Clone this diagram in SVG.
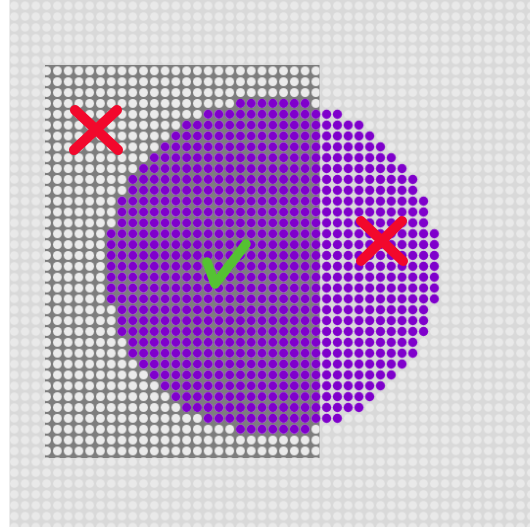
<svg xmlns="http://www.w3.org/2000/svg" width="530" height="527" viewBox="0 0 530 527">
  <style>
    .xmark { fill: none; stroke: #f2082c; stroke-width: 10; stroke-linecap: round; }
    .check { fill: none; stroke: #55c233; stroke-width: 9.5; stroke-linecap: round; stroke-linejoin: round; }
  </style>
  <defs>
    <pattern id="lightDots" patternUnits="userSpaceOnUse" x="8.915" y="0.27" width="10.77" height="10.86">
      <circle cx="5.385" cy="5.43" r="4.3" fill="#e9e9e9"/>
    </pattern>
    <pattern id="whiteDots" patternUnits="userSpaceOnUse" x="8.915" y="0.27" width="10.77" height="10.86">
      <circle cx="5.385" cy="5.43" r="4.4" fill="#ebebeb"/>
    </pattern>
    <pattern id="purpleDots" patternUnits="userSpaceOnUse" x="8.915" y="0.27" width="10.77" height="10.86">
      <circle cx="5.385" cy="5.43" r="4.6" fill="#7f00cc"/>
    </pattern>
    <clipPath id="circleCells">
      <path transform="translate(8.915 0.27) scale(10.77 10.86)" d="M21 9h7v1h-7z M18 10h13v1h-13z M16 11h17v1h-17z M15 12h19v1h-19z M14 13h21v1h-21z M13 14h23v1h-23z M12 15h25v1h-25z M11 16h27v2h-27z M10 18h29v3h-29z M9 21h31v7h-31z M10 28h29v3h-29z M11 31h27v2h-27z M12 33h25v1h-25z M13 34h23v1h-23z M14 35h21v1h-21z M15 36h19v1h-19z M16 37h17v1h-17z M18 38h13v1h-13z M21 39h7v1h-7z"/>
    </clipPath>
  </defs>
  <rect width="530" height="527" fill="#ffffff"/>
  <g id="background">
    <rect x="9.5" y="0" width="520.5" height="527" fill="#d9d9d9"/>
    <rect x="9.5" y="0" width="520.5" height="527" fill="url(#lightDots)"/>
  </g>
  <g id="grayRegion">
    <rect x="45" y="65" width="274.5" height="393" fill="#7d7d7d"/>
    <rect x="45" y="65" width="274.5" height="393" fill="url(#whiteDots)"/>
  </g>
  <g id="purpleCircle">
    <rect x="0" y="0" width="530" height="527" fill="url(#purpleDots)" clip-path="url(#circleCells)"/>
  </g>
  <g id="marks">
    <path class="xmark" d="M75 110 L118 150 M117 110 L74 150"/>
    <path class="xmark" d="M361 221 L403 261 M402 221 L361 261"/>
    <path class="check" d="M207 262 L215 284 L246 244"/>
  </g>
</svg>
